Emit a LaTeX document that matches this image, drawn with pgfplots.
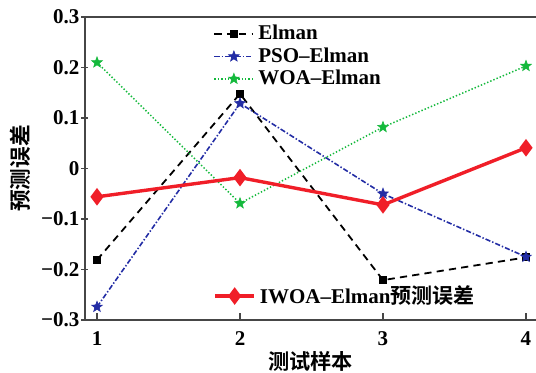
\documentclass[border=0pt]{standalone}
\usepackage{pgfplots}
\pgfplotsset{compat=1.18}
\usepackage{fontspec}
\setmainfont{Liberation Serif}
\newfontfamily\cjk{Noto Sans CJK SC}[BoldFont={* Bold}]
\definecolor{axgray}{RGB}{70,70,70}
\definecolor{psoblue}{RGB}{35,45,165}
\definecolor{woagreen}{RGB}{20,185,60}
\definecolor{iwoared}{RGB}{240,30,40}
% filled five-pointed star
\pgfdeclareplotmark{fstar}{%
  \pgfpathmoveto{\pgfpointpolar{90}{\pgfplotmarksize}}%
  \pgfpathlineto{\pgfpointpolar{126}{0.42\pgfplotmarksize}}%
  \pgfpathlineto{\pgfpointpolar{162}{\pgfplotmarksize}}%
  \pgfpathlineto{\pgfpointpolar{198}{0.42\pgfplotmarksize}}%
  \pgfpathlineto{\pgfpointpolar{234}{\pgfplotmarksize}}%
  \pgfpathlineto{\pgfpointpolar{270}{0.42\pgfplotmarksize}}%
  \pgfpathlineto{\pgfpointpolar{306}{\pgfplotmarksize}}%
  \pgfpathlineto{\pgfpointpolar{342}{0.42\pgfplotmarksize}}%
  \pgfpathlineto{\pgfpointpolar{18}{\pgfplotmarksize}}%
  \pgfpathlineto{\pgfpointpolar{54}{0.42\pgfplotmarksize}}%
  \pgfpathclose
  \pgfusepathqfillstroke
}
\pgfplotsset{
  commonaxis/.style={
    scale only axis,
    width=225.5pt, height=151.5pt,
    at={(0,0)}, anchor=south west,
    xmin=0.916, xmax=4.07,
    ymin=-0.3, ymax=0.3,
    xtick={1,2,3,4},
    ytick={-0.3,-0.2,-0.1,0,0.1,0.2,0.3},
    yticklabels={−0.3,−0.2,−0.1,0,0.1,0.2,0.3},
    xticklabels={1,2,3,4},
    tick align=inside,
    major tick length=3.5pt,
    tick style={axgray, line width=0.7pt},
    ticklabel style={font=\fontsize{10.5}{12}\selectfont\bfseries},
    xticklabel style={yshift=-2.5pt},
    yticklabel style={xshift=2.5pt},
    clip=false,
  },
  legendline/.style={
    legend image code/.code={
      \draw[mark repeat=2,mark phase=2,##1] plot coordinates {(0pt,0pt)(9.75pt,0pt)(19.5pt,0pt)};
    },
  },
}
\begin{document}
\begin{tikzpicture}
\path[use as bounding box] (-42.5pt,-26pt) rectangle (225.5pt,160pt);
\begin{axis}[
  commonaxis,
  separate axis lines,
  axis x line=box,
  axis y line=left,
  x axis line style={-, axgray, line width=0.8pt},
  y axis line style={-, axgray, line width=0.8pt},
  xtick pos=bottom, ytick pos=left,
  xlabel={\cjk\bfseries\fontsize{10.6}{12}\selectfont 测试样本},
  ylabel={\cjk\bfseries\fontsize{10.8}{13}\selectfont 预测误差},
  every axis x label/.style={at={(axis description cs:0.5,-0.135)}, anchor=center},
  every axis y label/.style={at={(axis description cs:-0.144,0.5)}, anchor=center, rotate=90},
  legendline,
  legend cell align=left,
  legend style={draw=none, fill=none, at={(axis description cs:0.284,0.987)}, anchor=north west,
    font=\fontsize{10.5}{12}\selectfont\bfseries, inner sep=0pt, row sep=-1.6pt,
    /tikz/every even column/.append style={column sep=3pt}},
]
% Elman
\addplot[black, line width=0.9pt, dash pattern=on 3.6pt off 2.6pt, mark=square*, mark size=1.6pt,
  mark options={solid}]
  coordinates {(1,-0.181) (2,0.148) (3,-0.221) (4,-0.176)};
\addlegendentry{Elman}
% PSO-Elman
\addplot[psoblue, line width=0.8pt, dash pattern=on 2.6pt off 1pt on 0.7pt off 1pt, mark=fstar, mark size=2.8pt,
  mark options={solid, line width=0.3pt}]
  coordinates {(1,-0.274) (2,0.129) (3,-0.050) (4,-0.175)};
\addlegendentry{PSO--Elman}
% WOA-Elman
\addplot[woagreen, line width=0.75pt, dash pattern=on 0.7pt off 1pt, mark=fstar, mark size=2.8pt,
  mark options={solid, line width=0.3pt}]
  coordinates {(1,0.210) (2,-0.069) (3,0.082) (4,0.203)};
\addlegendentry{WOA--Elman}
\end{axis}
\begin{axis}[
  commonaxis,
  hide axis,
  legendline,
  legend cell align=left,
  legend style={draw=none, fill=none, at={(axis description cs:0.284,0.079)}, anchor=west,
    font=\fontsize{10.5}{12}\selectfont\bfseries, inner sep=0pt,
    /tikz/every even column/.append style={column sep=3pt}},
]
% IWOA-Elman
\addplot[iwoared, line width=1.7pt, mark=diamond*, mark size=3pt, mark options={solid}]
  coordinates {(1,-0.056) (2,-0.018) (3,-0.072) (4,0.041)};
\addlegendentry{IWOA--Elman{\cjk\bfseries 预测误差}}
\end{axis}
\end{tikzpicture}
\end{document}
